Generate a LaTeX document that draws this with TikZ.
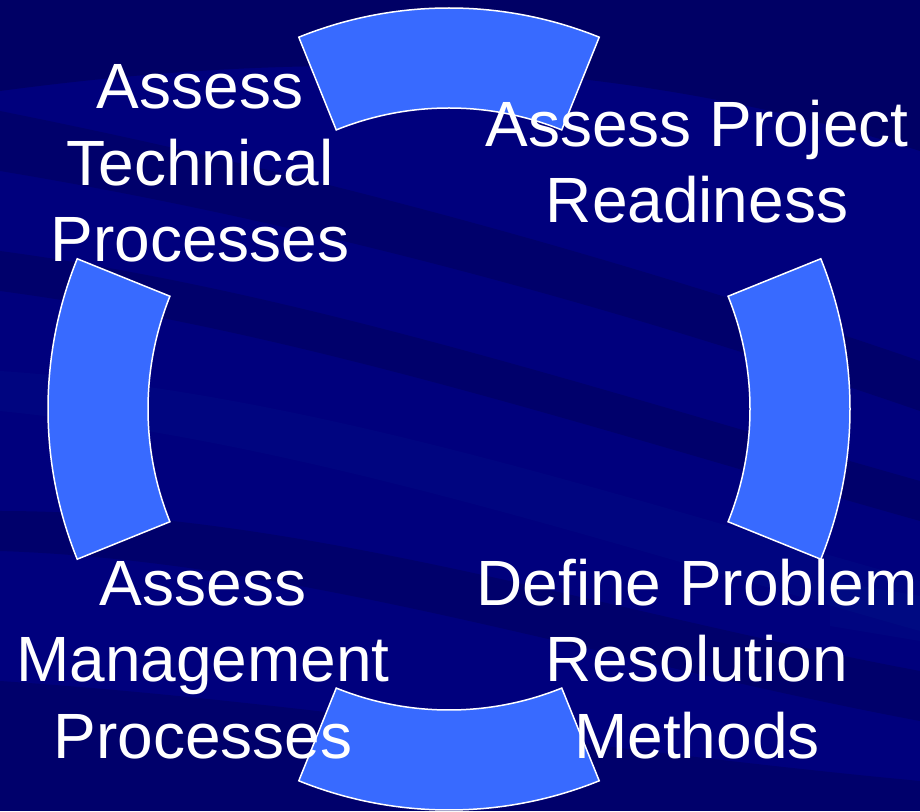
\documentclass[tikz,border=0pt]{standalone}
\usepackage{fontspec}
\setmainfont{Liberation Sans}
\begin{document}
\begin{tikzpicture}[x=1pt,y=1pt,
  seg/.style={fill=segblue, draw=white, line width=1.5pt, line join=miter},
  lbl/.style={text=white, align=center, inner sep=0pt, font=\fontsize{64}{76.5}\selectfont},
  dband/.style={fill=black, opacity=0.14},
  lband/.style={fill=bgblue!70!cyan, opacity=0.08}]
\definecolor{segblue}{RGB}{56,106,255}
\definecolor{bgblue}{RGB}{0,0,125}
\definecolor{bgdark}{RGB}{0,0,95}
\useasboundingbox (0,0) rectangle (920,811);
% background
\fill[bgblue] (0,0) rectangle (920,811);
\fill[bgdark, opacity=0.8] (0,811) -- (920,811) -- (920,660) .. controls (600,760) and (300,760) .. (0,720) -- cycle;
\fill[dband] (0,700) .. controls (300,640) and (600,560) .. (920,450) -- (920,400) .. controls (600,510) and (300,590) .. (0,640) -- cycle;
\fill[dband] (0,560) .. controls (300,520) and (600,420) .. (920,330) -- (920,290) .. controls (600,380) and (300,480) .. (0,520) -- cycle;
\fill[lband] (0,440) .. controls (300,420) and (600,320) .. (920,230) -- (920,180) .. controls (600,270) and (300,370) .. (0,400) -- cycle;
\fill[dband] (0,300) .. controls (300,300) and (600,200) .. (920,140) -- (920,90) .. controls (600,150) and (300,250) .. (0,260) -- cycle;
\fill[dband] (0,130) .. controls (300,110) and (600,60) .. (920,30) -- (920,0) -- (0,0) -- cycle;
\fill[lband] (830,230) -- (920,215) -- (920,170) -- (830,185) -- cycle;
% ring segments
\coordinate (c) at (449,402);
\foreach \a/\n in {90/top, 0/right, -90/bottom, 180/left}{
  \path[seg] ([shift={(\a-22:401)}]c) coordinate (\n o1)
     arc[start angle=\a-22, end angle=\a+22, radius=401]
     -- ([shift={(\a+22:301)}]c)
     arc[start angle=\a+22, end angle=\a-22, radius=301] -- cycle;
}
% labels (base anchor = baseline of the last line)
\node[lbl, anchor=base] (tl) at (200,549) {Assess\\Technical\\Processes};
\node[lbl, anchor=base] (tr) at (697,588) {Assess Project\\Readiness};
\node[lbl, anchor=base] (br) at (697,53) {Define Problem\\Resolution\\Methods};
\node[lbl, anchor=base] (bl) at (203,53) {Assess\\Management\\Processes};
\end{tikzpicture}
\end{document}
